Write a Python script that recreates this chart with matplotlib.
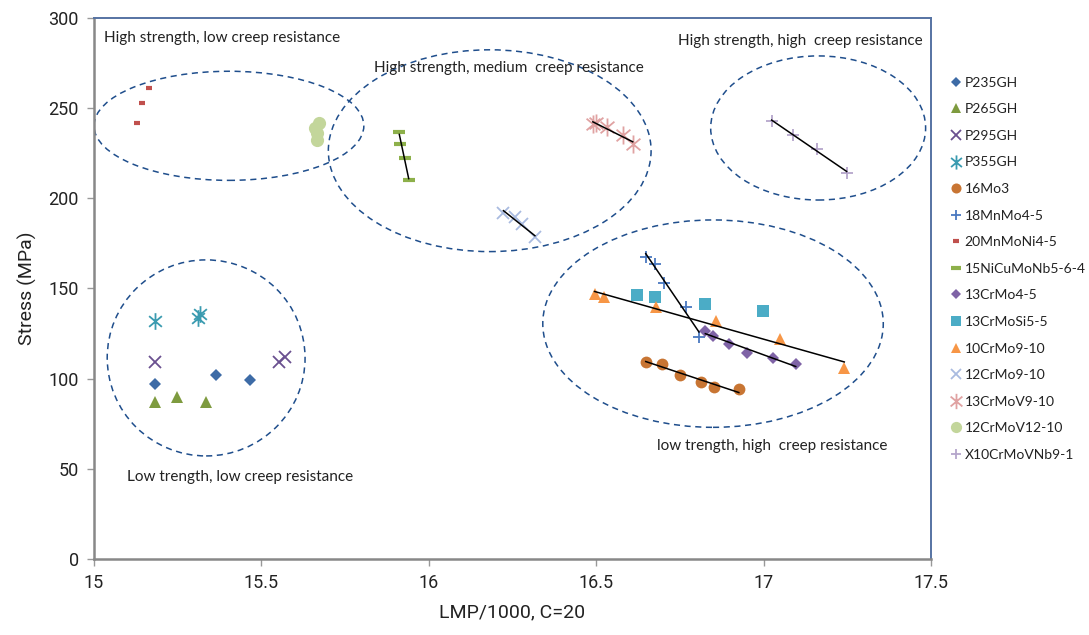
import numpy as np
import matplotlib
matplotlib.use("Agg")
import matplotlib.pyplot as plt
from matplotlib.patches import Ellipse
from matplotlib.path import Path

# ── data (LMP/1000, stress MPa) ───────────────────────────────────────────────
p235gh_x = [15.183, 15.364, 15.466]
p235gh_y = [97.2, 102.0, 99.3]
p265gh_x = [15.183, 15.249, 15.334]
p265gh_y = [87.0, 90.0, 87.0]
p295gh_x = [15.183, 15.553, 15.571]
p295gh_y = [109.0, 109.4, 112.0]
p355gh_x = [15.183, 15.312, 15.317]
p355gh_y = [132.0, 133.5, 136.0]
mo3_x = [16.648, 16.698, 16.750, 16.813, 16.853, 16.926]
mo3_y = [109.4, 108.2, 102.3, 98.3, 95.2, 94.1]
mnmo_x = [16.648, 16.676, 16.703, 16.768, 16.807]
mnmo_y = [167.7, 163.4, 153.3, 140.0, 123.3]
mnmoni_x = [15.128, 15.143, 15.164]
mnmoni_y = [242.0, 253.0, 261.0]
nicu_x = [15.912, 15.915, 15.929, 15.940]
nicu_y = [237.0, 230.3, 222.2, 210.2]
crmo45_x = [16.826, 16.850, 16.897, 16.949, 17.027, 17.096]
crmo45_y = [126.6, 123.9, 119.1, 114.1, 111.3, 108.2]
crmosi_x = [16.623, 16.676, 16.824, 16.997]
crmosi_y = [146.4, 145.1, 141.4, 137.5]
crmo910_x = [16.495, 16.524, 16.679, 16.858, 17.049, 17.241]
crmo910_y = [147.0, 145.1, 140.0, 132.0, 121.9, 105.8]
crmo12_x = [16.223, 16.257, 16.277, 16.317]
crmo12_y = [192.0, 189.5, 185.8, 178.4]
crmov910_x = [16.490, 16.500, 16.533, 16.581, 16.609]
crmov910_y = [241.0, 242.0, 239.4, 235.2, 230.0]
crmov12_x = [15.672, 15.661, 15.665, 15.667]
crmov12_y = [241.6, 238.9, 236.2, 232.4]
x10_x = [17.024, 17.089, 17.159, 17.248]
x10_y = [242.9, 235.2, 227.2, 214.3]

# Excel-style "star": an x with a vertical stroke through it
_c, _s = np.cos(np.radians(40)), np.sin(np.radians(40))
STAR = Path([(0, 1), (0, -1), (_c, _s), (-_c, -_s), (-_c, _s), (_c, -_s)],
            [Path.MOVETO, Path.LINETO] * 3)

# (label, x, y, marker, colour, size, trend line)
SERIES = [
    ("P235GH", p235gh_x, p235gh_y, "D", "#3D6BA6", 6, False),
    ("P265GH", p265gh_x, p265gh_y, "^", "#7E9B3F", 8.5, False),
    ("P295GH", p295gh_x, p295gh_y, "x", "#6A5090", 8, False),
    ("P355GH", p355gh_x, p355gh_y, STAR, "#3A9BB0", 12, False),
    ("16Mo3", mo3_x, mo3_y, "o", "#C87533", 8.5, True),
    ("18MnMo4-5", mnmo_x, mnmo_y, "+", "#4A78C0", 9, True),
    ("20MnMoNi4-5", mnmoni_x, mnmoni_y, "_", "#C0504D", 5, False),
    ("15NiCuMoNb5-6-4", nicu_x, nicu_y, "_", "#8DB04A", 9, True),
    ("13CrMo4-5", crmo45_x, crmo45_y, "D", "#7F63A6", 6, True),
    ("13CrMoSi5-5", crmosi_x, crmosi_y, "s", "#4BACC6", 8.5, False),
    ("10CrMo9-10", crmo910_x, crmo910_y, "^", "#F79646", 8.5, True),
    ("12CrMo9-10", crmo12_x, crmo12_y, "x", "#A9BBE0", 9, True),
    ("13CrMoV9-10", crmov910_x, crmov910_y, STAR, "#E0A2A2", 13, True),
    ("12CrMoV12-10", crmov12_x, crmov12_y, "o", "#C3D69B", 9.5, False),
    ("X10CrMoVNb9-1", x10_x, x10_y, "+", "#B5A6CC", 9, True),
]

# regions: (centre x, centre y, width, height)
REGIONS = [
    (15.403, 240.2, 0.806, 60.5),
    (15.335, 111.5, 0.591, 108.7),
    (16.182, 226.4, 0.964, 111.9),
    (17.163, 239.0, 0.642, 79.9),
    (16.849, 130.5, 1.017, 115.0),
]
REGION_LABELS = [
    (15.03, 289.0, "High strength, low creep resistance"),
    (15.835, 272.0, "High strength, medium  creep resistance"),
    (16.745, 287.5, "High strength, high  creep resistance"),
    (15.099, 45.5, "Low trength, low creep resistance"),
    (16.683, 62.7, "low trength, high  creep resistance"),
]

fig = plt.figure(figsize=(10.89, 6.35), dpi=100)
ax = fig.add_axes([0.0863, 0.1197, 0.7686, 0.852])

for name, xs, ys, mk, col, ms, trend in SERIES:
    is_line = isinstance(mk, Path) or mk in ("x", "+", "_")
    mew = 3 if isinstance(mk, str) and mk == "_" else (1.3 if is_line else 0)
    ax.plot(xs, ys, ls="none", marker=mk, color=col, ms=ms, mew=mew,
            label=name, zorder=3)
    if trend:
        k, b = np.polyfit(xs, ys, 1)
        xx = np.array([min(xs), max(xs)])
        ax.plot(xx, k * xx + b, color="black", lw=1.1, zorder=4)

for cx, cy, w, h in REGIONS:
    ax.add_patch(Ellipse((cx, cy), w, h, fill=False, edgecolor="#1F4E8C",
                         lw=1.1, ls=(0, (4, 3)), zorder=2))

for x, y, txt in REGION_LABELS:
    ax.text(x, y, txt, fontsize=11, family="Lato", color="#222222",
            ha="left", va="center", zorder=5)

ax.set_xlim(15, 17.5)
ax.set_ylim(0, 300)
ax.set_xticks(np.arange(15, 17.51, 0.5))
ax.set_xticklabels(["15", "15.5", "16", "16.5", "17", "17.5"])
ax.set_yticks(np.arange(0, 301, 50))

for side in ("left", "bottom"):
    ax.spines[side].set_color("#888888")
    ax.spines[side].set_linewidth(1.8)
for side in ("top", "right"):
    ax.spines[side].set_color("#5673A3")
    ax.spines[side].set_linewidth(1.4)

ax.tick_params(direction="out", length=5, width=1, color="#999999",
               labelsize=13, labelcolor="#222222", pad=6)
for lab in ax.get_xticklabels() + ax.get_yticklabels():
    lab.set_family("Roboto")

ax.set_xlabel("LMP/1000, C=20", fontsize=14, family="Roboto",
              color="#222222", labelpad=8)
ax.set_ylabel("Stress (MPa)", fontsize=14, family="Roboto",
              color="#222222", labelpad=8)

leg = fig.legend(loc="upper left", bbox_to_anchor=(0.868, 0.888),
                 frameon=False, handlelength=0.8, handletextpad=0.2,
                 labelspacing=1.05, borderaxespad=0, markerscale=0.85,
                 prop={"family": "Lato", "size": 10})
for t in leg.get_texts():
    t.set_color("#222222")

fig.savefig("out.png", dpi=100)
